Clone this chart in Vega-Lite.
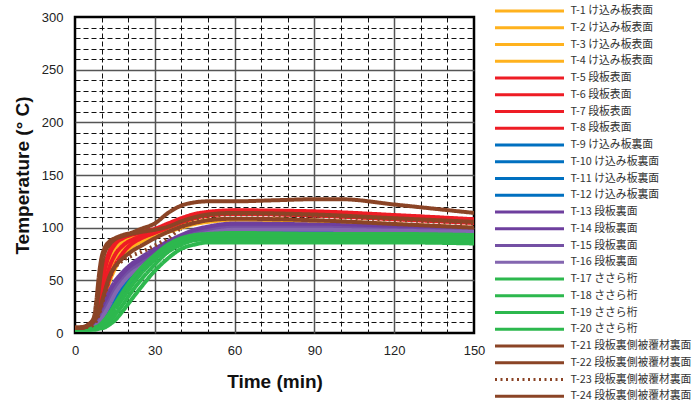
{
  "$schema": "https://vega.github.io/schema/vega-lite/v6.json",
  "width": 399,
  "height": 316,
  "autosize": {"type": "none"},
  "padding": {"left": 75, "top": 17, "right": 219, "bottom": 70},
  "data": {"values": [
{"s":1,"t":0,"v":4},{"s":1,"t":5,"v":5},{"s":1,"t":7,"v":8},{"s":1,"t":9,"v":26},{"s":1,"t":11,"v":54},{"s":1,"t":13,"v":71},{"s":1,"t":15,"v":80},{"s":1,"t":18,"v":86},{"s":1,"t":21,"v":89},{"s":1,"t":25,"v":92},{"s":1,"t":30,"v":95},{"s":1,"t":35,"v":99},{"s":1,"t":40,"v":102},{"s":1,"t":45,"v":104.5},{"s":1,"t":50,"v":106.5},{"s":1,"t":60,"v":108},{"s":1,"t":90,"v":106.5},{"s":1,"t":120,"v":103},{"s":1,"t":150,"v":99.5},
{"s":2,"t":0,"v":4},{"s":2,"t":5,"v":5},{"s":2,"t":7,"v":7},{"s":2,"t":9,"v":19},{"s":2,"t":11,"v":41},{"s":2,"t":13,"v":59},{"s":2,"t":15,"v":71},{"s":2,"t":18,"v":80},{"s":2,"t":21,"v":86},{"s":2,"t":25,"v":89},{"s":2,"t":30,"v":93},{"s":2,"t":35,"v":97},{"s":2,"t":40,"v":101},{"s":2,"t":45,"v":104},{"s":2,"t":50,"v":106},{"s":2,"t":60,"v":107.8},{"s":2,"t":90,"v":106.3},{"s":2,"t":120,"v":102.8},{"s":2,"t":150,"v":99.3},
{"s":3,"t":0,"v":4},{"s":3,"t":5,"v":5},{"s":3,"t":7,"v":6},{"s":3,"t":9,"v":14},{"s":3,"t":11,"v":32},{"s":3,"t":13,"v":49},{"s":3,"t":15,"v":61},{"s":3,"t":18,"v":73},{"s":3,"t":21,"v":81},{"s":3,"t":25,"v":87},{"s":3,"t":30,"v":92},{"s":3,"t":35,"v":96},{"s":3,"t":40,"v":100},{"s":3,"t":45,"v":103.5},{"s":3,"t":50,"v":105.5},{"s":3,"t":60,"v":107.7},{"s":3,"t":90,"v":106.2},{"s":3,"t":120,"v":102.7},{"s":3,"t":150,"v":99.2},
{"s":4,"t":0,"v":4},{"s":4,"t":5,"v":5},{"s":4,"t":7,"v":9},{"s":4,"t":9,"v":31},{"s":4,"t":11,"v":58},{"s":4,"t":13,"v":74},{"s":4,"t":15,"v":82},{"s":4,"t":18,"v":88},{"s":4,"t":21,"v":91},{"s":4,"t":25,"v":93},{"s":4,"t":30,"v":96},{"s":4,"t":35,"v":100},{"s":4,"t":40,"v":103},{"s":4,"t":45,"v":105},{"s":4,"t":50,"v":107},{"s":4,"t":60,"v":108.2},{"s":4,"t":90,"v":106.7},{"s":4,"t":120,"v":103.2},{"s":4,"t":150,"v":99.7},
{"s":5,"t":0,"v":4},{"s":5,"t":5,"v":5},{"s":5,"t":7,"v":9},{"s":5,"t":9,"v":30},{"s":5,"t":11,"v":58},{"s":5,"t":13,"v":75},{"s":5,"t":15,"v":84},{"s":5,"t":18,"v":90},{"s":5,"t":21,"v":93},{"s":5,"t":25,"v":95},{"s":5,"t":30,"v":98},{"s":5,"t":35,"v":103},{"s":5,"t":40,"v":108},{"s":5,"t":45,"v":112},{"s":5,"t":50,"v":114},{"s":5,"t":60,"v":116},{"s":5,"t":90,"v":115},{"s":5,"t":120,"v":111.5},{"s":5,"t":150,"v":107.5},
{"s":6,"t":0,"v":4},{"s":6,"t":5,"v":5},{"s":6,"t":7,"v":8},{"s":6,"t":9,"v":22},{"s":6,"t":11,"v":45},{"s":6,"t":13,"v":63},{"s":6,"t":15,"v":74},{"s":6,"t":18,"v":83},{"s":6,"t":21,"v":88},{"s":6,"t":25,"v":92},{"s":6,"t":30,"v":96},{"s":6,"t":35,"v":101},{"s":6,"t":40,"v":106},{"s":6,"t":45,"v":110},{"s":6,"t":50,"v":112},{"s":6,"t":60,"v":113.5},{"s":6,"t":90,"v":112},{"s":6,"t":120,"v":108.5},{"s":6,"t":150,"v":105},
{"s":7,"t":0,"v":4},{"s":7,"t":5,"v":5},{"s":7,"t":7,"v":7},{"s":7,"t":9,"v":16},{"s":7,"t":11,"v":35},{"s":7,"t":13,"v":52},{"s":7,"t":15,"v":64},{"s":7,"t":18,"v":76},{"s":7,"t":21,"v":84},{"s":7,"t":25,"v":90},{"s":7,"t":30,"v":95},{"s":7,"t":35,"v":100},{"s":7,"t":40,"v":105},{"s":7,"t":45,"v":109},{"s":7,"t":50,"v":111.5},{"s":7,"t":60,"v":113},{"s":7,"t":90,"v":111.5},{"s":7,"t":120,"v":108},{"s":7,"t":150,"v":104.5},
{"s":8,"t":0,"v":4},{"s":8,"t":5,"v":5},{"s":8,"t":7,"v":10},{"s":8,"t":9,"v":35},{"s":8,"t":11,"v":62},{"s":8,"t":13,"v":78},{"s":8,"t":15,"v":86},{"s":8,"t":18,"v":91},{"s":8,"t":21,"v":94},{"s":8,"t":25,"v":96},{"s":8,"t":30,"v":99},{"s":8,"t":35,"v":104},{"s":8,"t":40,"v":109},{"s":8,"t":45,"v":113},{"s":8,"t":50,"v":115},{"s":8,"t":60,"v":116.5},{"s":8,"t":90,"v":115.5},{"s":8,"t":120,"v":112},{"s":8,"t":150,"v":108},
{"s":9,"t":0,"v":4},{"s":9,"t":5,"v":4},{"s":9,"t":7,"v":5},{"s":9,"t":9,"v":8},{"s":9,"t":11,"v":14},{"s":9,"t":13,"v":22},{"s":9,"t":15,"v":31},{"s":9,"t":18,"v":43},{"s":9,"t":21,"v":53},{"s":9,"t":25,"v":64},{"s":9,"t":30,"v":74},{"s":9,"t":35,"v":82},{"s":9,"t":40,"v":88},{"s":9,"t":45,"v":92},{"s":9,"t":50,"v":94},{"s":9,"t":60,"v":96},{"s":9,"t":90,"v":97},{"s":9,"t":120,"v":96},{"s":9,"t":150,"v":95},
{"s":10,"t":0,"v":4},{"s":10,"t":5,"v":4},{"s":10,"t":7,"v":5},{"s":10,"t":9,"v":7},{"s":10,"t":11,"v":12},{"s":10,"t":13,"v":19},{"s":10,"t":15,"v":27},{"s":10,"t":18,"v":39},{"s":10,"t":21,"v":49},{"s":10,"t":25,"v":60},{"s":10,"t":30,"v":71},{"s":10,"t":35,"v":80},{"s":10,"t":40,"v":86},{"s":10,"t":45,"v":90},{"s":10,"t":50,"v":93},{"s":10,"t":60,"v":95},{"s":10,"t":90,"v":96},{"s":10,"t":120,"v":95},{"s":10,"t":150,"v":94},
{"s":11,"t":0,"v":4},{"s":11,"t":5,"v":4},{"s":11,"t":7,"v":5},{"s":11,"t":9,"v":9},{"s":11,"t":11,"v":16},{"s":11,"t":13,"v":25},{"s":11,"t":15,"v":34},{"s":11,"t":18,"v":46},{"s":11,"t":21,"v":56},{"s":11,"t":25,"v":66},{"s":11,"t":30,"v":76},{"s":11,"t":35,"v":84},{"s":11,"t":40,"v":90},{"s":11,"t":45,"v":94},{"s":11,"t":50,"v":96},{"s":11,"t":60,"v":98},{"s":11,"t":90,"v":98},{"s":11,"t":120,"v":97},{"s":11,"t":150,"v":96},
{"s":12,"t":0,"v":4},{"s":12,"t":5,"v":4},{"s":12,"t":7,"v":5},{"s":12,"t":9,"v":8},{"s":12,"t":11,"v":13},{"s":12,"t":13,"v":21},{"s":12,"t":15,"v":29},{"s":12,"t":18,"v":41},{"s":12,"t":21,"v":51},{"s":12,"t":25,"v":62},{"s":12,"t":30,"v":72},{"s":12,"t":35,"v":81},{"s":12,"t":40,"v":87},{"s":12,"t":45,"v":91},{"s":12,"t":50,"v":93},{"s":12,"t":60,"v":95},{"s":12,"t":90,"v":96},{"s":12,"t":120,"v":95},{"s":12,"t":150,"v":95},
{"s":13,"t":0,"v":4},{"s":13,"t":5,"v":4},{"s":13,"t":7,"v":7},{"s":13,"t":9,"v":15},{"s":13,"t":11,"v":28},{"s":13,"t":13,"v":40},{"s":13,"t":15,"v":49},{"s":13,"t":18,"v":58},{"s":13,"t":21,"v":65},{"s":13,"t":25,"v":72},{"s":13,"t":30,"v":80},{"s":13,"t":35,"v":87},{"s":13,"t":40,"v":93},{"s":13,"t":45,"v":98},{"s":13,"t":50,"v":101},{"s":13,"t":60,"v":104},{"s":13,"t":90,"v":103},{"s":13,"t":120,"v":101},{"s":13,"t":150,"v":99},
{"s":14,"t":0,"v":4},{"s":14,"t":5,"v":4},{"s":14,"t":7,"v":6},{"s":14,"t":9,"v":13},{"s":14,"t":11,"v":24},{"s":14,"t":13,"v":35},{"s":14,"t":15,"v":45},{"s":14,"t":18,"v":55},{"s":14,"t":21,"v":62},{"s":14,"t":25,"v":69},{"s":14,"t":30,"v":77},{"s":14,"t":35,"v":85},{"s":14,"t":40,"v":91},{"s":14,"t":45,"v":96},{"s":14,"t":50,"v":99},{"s":14,"t":60,"v":102},{"s":14,"t":90,"v":101},{"s":14,"t":120,"v":99},{"s":14,"t":150,"v":98},
{"s":15,"t":0,"v":4},{"s":15,"t":5,"v":4},{"s":15,"t":7,"v":6},{"s":15,"t":9,"v":11},{"s":15,"t":11,"v":21},{"s":15,"t":13,"v":31},{"s":15,"t":15,"v":41},{"s":15,"t":18,"v":51},{"s":15,"t":21,"v":59},{"s":15,"t":25,"v":66},{"s":15,"t":30,"v":74},{"s":15,"t":35,"v":82},{"s":15,"t":40,"v":89},{"s":15,"t":45,"v":94},{"s":15,"t":50,"v":97},{"s":15,"t":60,"v":100},{"s":15,"t":90,"v":100},{"s":15,"t":120,"v":98},{"s":15,"t":150,"v":97},
{"s":16,"t":0,"v":4},{"s":16,"t":5,"v":4},{"s":16,"t":7,"v":5},{"s":16,"t":9,"v":10},{"s":16,"t":11,"v":18},{"s":16,"t":13,"v":27},{"s":16,"t":15,"v":37},{"s":16,"t":18,"v":48},{"s":16,"t":21,"v":56},{"s":16,"t":25,"v":63},{"s":16,"t":30,"v":72},{"s":16,"t":35,"v":80},{"s":16,"t":40,"v":87},{"s":16,"t":45,"v":92},{"s":16,"t":50,"v":95},{"s":16,"t":60,"v":98},{"s":16,"t":90,"v":98},{"s":16,"t":120,"v":97},{"s":16,"t":150,"v":96},
{"s":17,"t":0,"v":4},{"s":17,"t":5,"v":4},{"s":17,"t":7,"v":5},{"s":17,"t":9,"v":7},{"s":17,"t":11,"v":12},{"s":17,"t":13,"v":19},{"s":17,"t":15,"v":27},{"s":17,"t":18,"v":39},{"s":17,"t":21,"v":50},{"s":17,"t":25,"v":62},{"s":17,"t":30,"v":74},{"s":17,"t":35,"v":84},{"s":17,"t":40,"v":90},{"s":17,"t":45,"v":93},{"s":17,"t":50,"v":94},{"s":17,"t":60,"v":95},{"s":17,"t":90,"v":94},{"s":17,"t":120,"v":94},{"s":17,"t":150,"v":93},
{"s":18,"t":0,"v":4},{"s":18,"t":5,"v":4},{"s":18,"t":7,"v":4},{"s":18,"t":9,"v":6},{"s":18,"t":11,"v":9},{"s":18,"t":13,"v":15},{"s":18,"t":15,"v":22},{"s":18,"t":18,"v":33},{"s":18,"t":21,"v":44},{"s":18,"t":25,"v":57},{"s":18,"t":30,"v":70},{"s":18,"t":35,"v":81},{"s":18,"t":40,"v":87},{"s":18,"t":45,"v":90},{"s":18,"t":50,"v":92},{"s":18,"t":60,"v":92},{"s":18,"t":90,"v":92},{"s":18,"t":120,"v":91},{"s":18,"t":150,"v":91},
{"s":19,"t":0,"v":3},{"s":19,"t":5,"v":3},{"s":19,"t":7,"v":4},{"s":19,"t":9,"v":5},{"s":19,"t":11,"v":7},{"s":19,"t":13,"v":11},{"s":19,"t":15,"v":17},{"s":19,"t":18,"v":27},{"s":19,"t":21,"v":38},{"s":19,"t":25,"v":51},{"s":19,"t":30,"v":65},{"s":19,"t":35,"v":77},{"s":19,"t":40,"v":84},{"s":19,"t":45,"v":88},{"s":19,"t":50,"v":89},{"s":19,"t":60,"v":89},{"s":19,"t":90,"v":89},{"s":19,"t":120,"v":89},{"s":19,"t":150,"v":88},
{"s":20,"t":0,"v":3},{"s":20,"t":5,"v":3},{"s":20,"t":7,"v":3},{"s":20,"t":9,"v":4},{"s":20,"t":11,"v":5},{"s":20,"t":13,"v":8},{"s":20,"t":15,"v":12},{"s":20,"t":18,"v":21},{"s":20,"t":21,"v":31},{"s":20,"t":25,"v":44},{"s":20,"t":30,"v":59},{"s":20,"t":35,"v":71},{"s":20,"t":40,"v":80},{"s":20,"t":45,"v":84},{"s":20,"t":50,"v":86},{"s":20,"t":60,"v":86},{"s":20,"t":90,"v":86},{"s":20,"t":120,"v":86},{"s":20,"t":150,"v":85},
{"s":21,"t":0,"v":5},{"s":21,"t":3,"v":5},{"s":21,"t":5,"v":8},{"s":21,"t":7,"v":14},{"s":21,"t":8,"v":30},{"s":21,"t":9,"v":55},{"s":21,"t":10,"v":72},{"s":21,"t":11,"v":80},{"s":21,"t":13,"v":87},{"s":21,"t":15,"v":90},{"s":21,"t":18,"v":93},{"s":21,"t":21,"v":95},{"s":21,"t":25,"v":99},{"s":21,"t":30,"v":104},{"s":21,"t":35,"v":114},{"s":21,"t":40,"v":121},{"s":21,"t":45,"v":124},{"s":21,"t":50,"v":125},{"s":21,"t":60,"v":125},{"s":21,"t":75,"v":126},{"s":21,"t":90,"v":127},{"s":21,"t":100,"v":127},{"s":21,"t":120,"v":122},{"s":21,"t":135,"v":118},{"s":21,"t":150,"v":114},
{"s":22,"t":0,"v":5},{"s":22,"t":3,"v":5},{"s":22,"t":5,"v":8},{"s":22,"t":7,"v":13},{"s":22,"t":8,"v":22},{"s":22,"t":9,"v":42},{"s":22,"t":10,"v":62},{"s":22,"t":11,"v":75},{"s":22,"t":13,"v":84},{"s":22,"t":15,"v":89},{"s":22,"t":18,"v":92},{"s":22,"t":21,"v":94},{"s":22,"t":25,"v":96},{"s":22,"t":30,"v":98},{"s":22,"t":35,"v":101},{"s":22,"t":40,"v":106},{"s":22,"t":45,"v":110},{"s":22,"t":50,"v":112.5},{"s":22,"t":60,"v":114},{"s":22,"t":90,"v":112.5},{"s":22,"t":120,"v":109},{"s":22,"t":150,"v":105.5},
{"s":23,"t":0,"v":5},{"s":23,"t":5,"v":6},{"s":23,"t":7,"v":8},{"s":23,"t":9,"v":18},{"s":23,"t":11,"v":35},{"s":23,"t":13,"v":52},{"s":23,"t":15,"v":62},{"s":23,"t":18,"v":69},{"s":23,"t":21,"v":73},{"s":23,"t":25,"v":77},{"s":23,"t":30,"v":83},{"s":23,"t":35,"v":90},{"s":23,"t":40,"v":100},{"s":23,"t":45,"v":107},{"s":23,"t":50,"v":111},{"s":23,"t":60,"v":112.5},{"s":23,"t":90,"v":111},{"s":23,"t":120,"v":107.5},{"s":23,"t":150,"v":104},
{"s":24,"t":0,"v":5},{"s":24,"t":5,"v":7},{"s":24,"t":7,"v":11},{"s":24,"t":9,"v":20},{"s":24,"t":11,"v":38},{"s":24,"t":13,"v":54},{"s":24,"t":15,"v":63},{"s":24,"t":18,"v":71},{"s":24,"t":21,"v":77},{"s":24,"t":25,"v":83},{"s":24,"t":30,"v":90},{"s":24,"t":35,"v":96},{"s":24,"t":40,"v":101},{"s":24,"t":45,"v":104.5},{"s":24,"t":50,"v":107},{"s":24,"t":60,"v":108.5},{"s":24,"t":90,"v":107},{"s":24,"t":120,"v":103.5},{"s":24,"t":150,"v":100}
  ]},
  "mark": {"type": "line", "interpolate": "monotone", "strokeWidth": 4, "clip": true},
  "encoding": {
    "x": {
      "field": "t", "type": "quantitative",
      "scale": {"domain": [0, 150], "nice": false},
      "axis": {
        "title": "Time (min)",
        "values": [0,10,20,30,40,50,60,70,80,90,100,110,120,130,140,150],
        "labelExpr": "datum.value % 30 === 0 ? datum.label : ''",
        "labelFlush": false,
        "labelPadding": 11,
        "titlePadding": 15,
        "gridDash": {"condition": {"test": "datum.value % 30 === 0", "value": [1, 0]}, "value": [5, 3]},
        "gridColor": {"condition": {"test": "datum.value % 30 === 0", "value": "#555"}, "value": "#111"},
        "gridWidth": {"condition": {"test": "datum.value % 30 === 0", "value": 1.5}, "value": 1},
        "gridOpacity": {"condition": {"test": "datum.value === 0 || datum.value === 150", "value": 0}, "value": 1}
      }
    },
    "y": {
      "field": "v", "type": "quantitative",
      "scale": {"domain": [0, 300], "nice": false},
      "axis": {
        "title": "Temperature (° C)",
        "values": [0,10,20,30,40,50,60,70,80,90,100,110,120,130,140,150,160,170,180,190,200,210,220,230,240,250,260,270,280,290,300],
        "labelExpr": "datum.value % 50 === 0 ? datum.label : ''",
        "labelFlush": false,
        "labelPadding": 12,
        "titlePadding": 9,
        "gridDash": {"condition": {"test": "datum.value % 50 === 0", "value": [1, 0]}, "value": [5, 3]},
        "gridColor": {"condition": {"test": "datum.value % 50 === 0", "value": "#555"}, "value": "#111"},
        "gridWidth": {"condition": {"test": "datum.value % 50 === 0", "value": 1.5}, "value": 1},
        "gridOpacity": {"condition": {"test": "datum.value === 0 || datum.value === 300", "value": 0}, "value": 1}
      }
    },
    "color": {
      "field": "s", "type": "nominal",
      "scale": {
        "domain": [1,2,3,4,5,6,7,8,9,10,11,12,13,14,15,16,17,18,19,20,21,22,23,24],
        "range": ["#FFB21E","#FFB21E","#FFB21E","#FFB21E","#EE1C25","#EE1C25","#EE1C25","#EE1C25","#0070C0","#0070C0","#0070C0","#0070C0","#6E3F9E","#6E3F9E","#7450A4","#8466B0","#2DB84E","#2DB84E","#2DB84E","#2DB84E","#8B4426","#8B4426","#8B4426","#8B4426"]
      },
      "legend": {
        "title": null, "orient": "none", "legendX": 418.5, "legendY": -13, "padding": 0,
        "symbolType": "stroke", "symbolSize": 4761, "symbolStrokeWidth": 3, "symbolOffset": 0,
        "clipHeight": 14, "rowPadding": 2.75, "labelOffset": 5,
        "labelFont": "Noto Sans CJK JP", "labelFontSize": 10.8, "labelColor": "#333", "labelLimit": 300,
        "labelExpr": "'T-' + datum.label + ' ' + (datum.value <= 4 ? 'け込み板表面' : datum.value <= 8 ? '段板表面' : datum.value <= 12 ? 'け込み板裏面' : datum.value <= 16 ? '段板裏面' : datum.value <= 20 ? 'ささら桁' : '段板裏側被覆材裏面')"
      }
    },
    "strokeDash": {
      "field": "s", "type": "nominal",
      "scale": {
        "domain": [1,2,3,4,5,6,7,8,9,10,11,12,13,14,15,16,17,18,19,20,21,22,23,24],
        "range": [[1,0],[1,0],[1,0],[1,0],[1,0],[1,0],[1,0],[1,0],[1,0],[1,0],[1,0],[1,0],[1,0],[1,0],[1,0],[1,0],[1,0],[1,0],[1,0],[1,0],[1,0],[1,0],[2,3.5],[1,0]]
      },
      "legend": {
        "title": null, "orient": "none", "legendX": 418.5, "legendY": -13, "padding": 0,
        "symbolType": "stroke", "symbolSize": 4761, "symbolStrokeWidth": 3, "symbolOffset": 0,
        "clipHeight": 14, "rowPadding": 2.75, "labelOffset": 5,
        "labelFont": "Noto Sans CJK JP", "labelFontSize": 10.8, "labelColor": "#333", "labelLimit": 300,
        "labelExpr": "'T-' + datum.label + ' ' + (datum.value <= 4 ? 'け込み板表面' : datum.value <= 8 ? '段板表面' : datum.value <= 12 ? 'け込み板裏面' : datum.value <= 16 ? '段板裏面' : datum.value <= 20 ? 'ささら桁' : '段板裏側被覆材裏面')"
      }
    }
  },
  "config": {
    "view": {"stroke": "#000", "strokeWidth": 2.5},
    "axis": {
      "domain": false, "ticks": false, "tickSize": 0,
      "labelFont": "Liberation Sans", "labelFontSize": 13, "labelColor": "#222",
      "titleFont": "Liberation Sans", "titleFontWeight": "bold", "titleFontSize": 19, "titleColor": "#111"
    }
  }
}
